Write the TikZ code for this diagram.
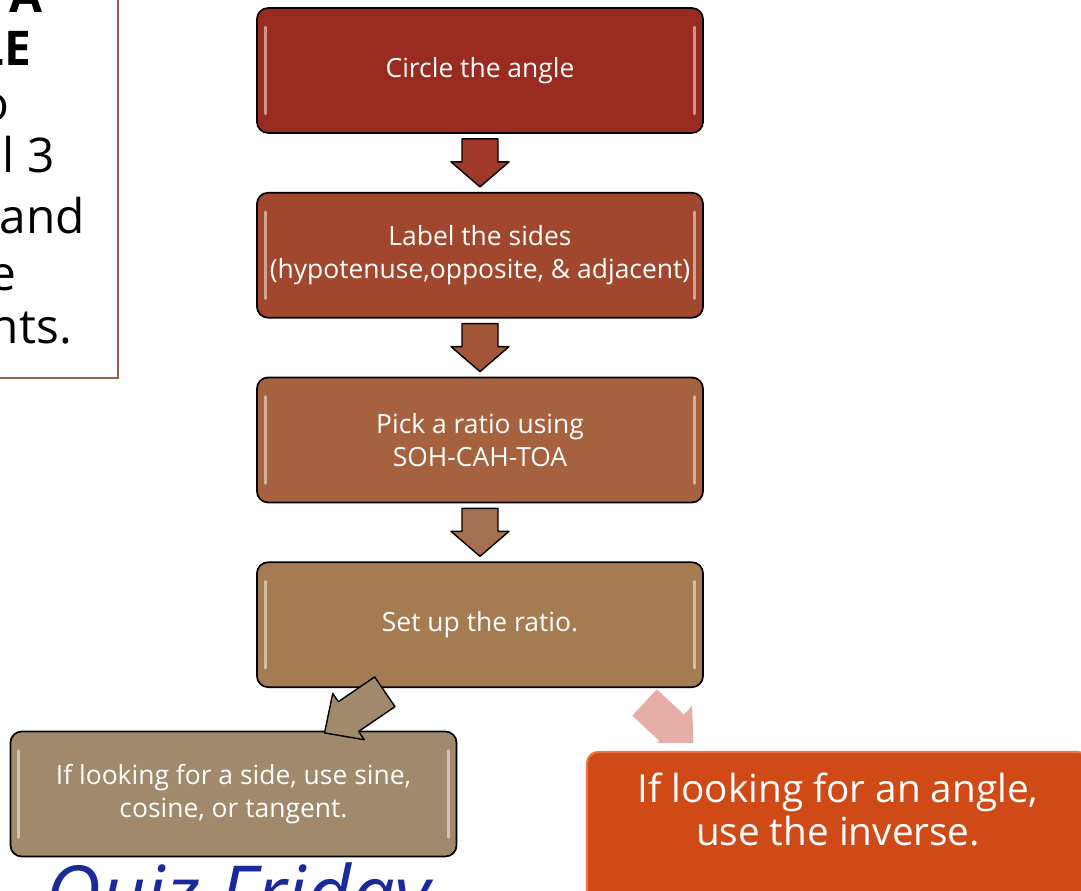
\documentclass[tikz,border=0pt]{standalone}
\usepackage{fontspec}
\setmainfont{Open Sans}
\usetikzlibrary{positioning,calc}
\definecolor{boxone}{HTML}{9A2B21}
\definecolor{boxtwo}{HTML}{A0472E}
\definecolor{boxthree}{HTML}{A6623F}
\definecolor{boxfour}{HTML}{A57B51}
\definecolor{boxfive}{HTML}{A08A6B}
\definecolor{boxsix}{HTML}{D04A18}
\definecolor{boxsixtop}{HTML}{EE7443}
\definecolor{arrowone}{HTML}{A0392A}
\definecolor{arrowtwo}{HTML}{A35538}
\definecolor{arrowthree}{HTML}{A57050}
\definecolor{arrowpink}{HTML}{E4AEA7}
\definecolor{noteborder}{HTML}{A0604F}
\definecolor{inkblue}{HTML}{1A2A9A}
\begin{document}
\begin{tikzpicture}[x=0.025cm,y=-0.025cm,
  stepbox/.style={draw=black,line width=1.2pt,rounded corners=8pt,
    minimum width=11.15cm,minimum height=3.125cm,inner sep=1pt,
    align=center,text=white,font=\fontsize{18.8}{23.5}\selectfont},
  gloss/.style={line width=2.2pt,line cap=round,white,opacity=0.5},
  blockarrow/.style={draw=black,line width=1pt,line join=round},
  notetext/.style={inner sep=0pt,font=\fontsize{34}{40}\selectfont}]

\useasboundingbox (0,0) rectangle (1081,890);
\clip (0,0) rectangle (1081,890);

% note box cut off at the left
\draw[noteborder,line width=1.2pt,fill=white] (-20,-20) rectangle (118,378);
\node[notetext,anchor=base east] (noteA) at (43,12) {\bfseries A};
\node[notetext,anchor=base east] (noteB) at (32,65) {\bfseries LE};
\node[notetext,anchor=base east] (noteC) at (10,120) {o};
\node[notetext,anchor=base east] (noteD) at (55,172) {l 3};
\node[notetext,anchor=base east] (noteE) at (85,233) {and};
\node[notetext,anchor=base east] (noteF) at (17,290) {e};
\node[notetext,anchor=base east] (noteG) at (72,343) {nts.};

% the steps
\node[stepbox,fill=boxone] (angle) at (480,70.5) {Circle the angle};
\node[stepbox,fill=boxtwo,below=1.45cm of angle] (sides)
  {Label the sides\\(hypotenuse,opposite, \& adjacent)};
\node[stepbox,fill=boxthree,below=1.45cm of sides] (ratio)
  {Pick a ratio using\\SOH-CAH-TOA};
\node[stepbox,fill=boxfour,below=1.45cm of ratio] (setup) {Set up the ratio.};
\node[stepbox,fill=boxfive] (sidecase) at (233.5,794)
  {If looking for a side, use sine,\\cosine, or tangent.};
\node[rounded corners=8pt,fill=boxsix,draw=boxsixtop,line width=1.5pt,
      minimum width=12.55cm,minimum height=3.75cm,
      align=center,text=white,text depth=26pt,
      font=\fontsize{27.5}{30.6}\selectfont] (anglecase) at (838,827)
  {If looking for an angle,\\use the inverse.};

\foreach \n in {angle,sides,ratio,setup,sidecase}{
  \draw[gloss] ($(\n.north west)+(9,20)$) -- ($(\n.south west)+(9,-20)$);
  \draw[gloss] ($(\n.north east)+(-9,20)$) -- ($(\n.south east)+(-9,-20)$);
}

% arrows between the steps
\foreach \from/\to/\col in {angle/sides/arrowone,sides/ratio/arrowtwo,ratio/setup/arrowthree}{
  \begin{scope}[shift={($(\from.south)!0.5!(\to.north)$)}]
    \filldraw[blockarrow,fill=\col] (-18,-24) -- (18,-24) -- (18,-1) -- (29,-1)
      -- (0,24) -- (-29,-1) -- (-18,-1) -- cycle;
  \end{scope}
}
\begin{scope}[shift={($(setup.south west)+(99,24)$)},rotate=-55.7]
  \filldraw[blockarrow,fill=boxfive] (-18,-36) -- (18,-36) -- (18,8) -- (28,8)
    -- (0,37) -- (-28,8) -- (-18,8) -- cycle;
\end{scope}
\begin{scope}
  \clip (600,660) rectangle (693,742);
  \begin{scope}[shift={($(setup.south east)+(-33,39)$)},rotate=47]
    \fill[arrowpink] (-18,-36) -- (18,-36) -- (18,1) -- (30,1)
      -- (0,31) -- (-30,1) -- (-18,1) -- cycle;
  \end{scope}
\end{scope}

% handwriting at the bottom
\node[anchor=north west,inner sep=0pt,text=inkblue,
      font=\fontsize{55}{55}\selectfont\itshape] (quiz) at (45,862) {Quiz Friday};

\end{tikzpicture}
\end{document}
